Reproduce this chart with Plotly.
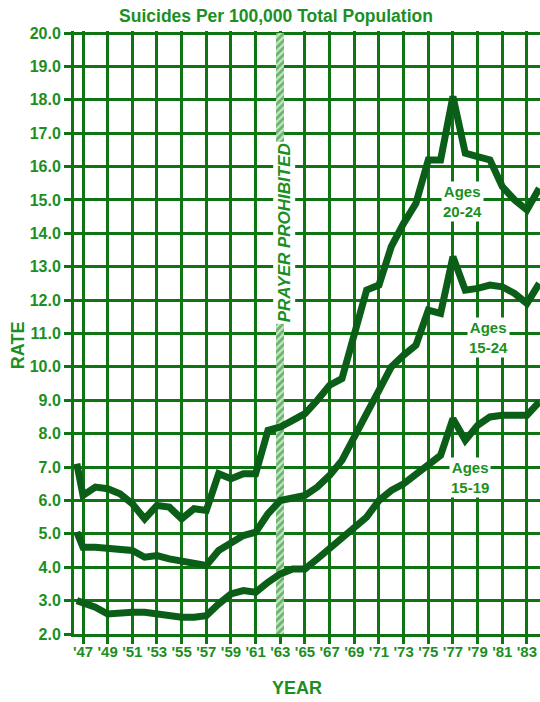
import plotly.graph_objects as go

# ---- data ----
years = [1946.5] + list(range(1947, 1985))
ages_20_24 = [7.1, 6.15, 6.4, 6.35, 6.2, 5.9, 5.45, 5.85, 5.8, 5.45, 5.75, 5.7,
              6.8, 6.65, 6.8, 6.8, 8.1, 8.2, 8.4, 8.6, 9.0, 9.45, 9.65, 10.9,
              12.3, 12.45, 13.6, 14.3, 14.9, 16.2, 16.2, 18.1, 16.4, 16.3, 16.2,
              15.4, 15.0, 14.7, 15.35]
ages_15_24 = [5.05, 4.6, 4.6, 4.55, 4.55, 4.5, 4.3, 4.35, 4.25, 4.2, 4.1, 4.05,
              4.5, 4.7, 4.95, 5.05, 5.6, 6.0, 6.1, 6.15, 6.4, 6.75, 7.2, 7.85,
              8.6, 9.3, 10.0, 10.35, 10.65, 11.7, 11.6, 13.3, 12.3, 12.35, 12.45,
              12.4, 12.2, 11.9, 12.5]
ages_15_19 = [3.0, 2.95, 2.8, 2.6, 2.65, 2.65, 2.65, 2.6, 2.5, 2.5, 2.5, 2.55,
              2.9, 3.2, 3.3, 3.25, 3.55, 3.8, 3.95, 3.95, 4.25, 4.55, 4.9, 5.15,
              5.5, 6.0, 6.3, 6.5, 6.8, 7.1, 7.35, 8.45, 7.8, 8.25, 8.5, 8.55,
              8.55, 8.55, 8.95]
tick_years = list(range(1947, 1985, 2))
tick_labels = ["'" + str(y)[2:] for y in tick_years]
y_ticks = [float(v) for v in range(2, 21)]
prayer_year = 1963
labels = [("Ages<br>20-24", 1977.8, 14.94),
          ("Ages<br>15-24", 1979.85, 10.87),
          ("Ages<br>15-19", 1978.4, 6.68)]

GRID = "#0e7512"
LINE = "#0b5e17"
TEXT = "#1c8f22"
FONT = "Liberation Sans, Arial, sans-serif"

fig = go.Figure()

# hatched "prayer prohibited" band
fig.add_trace(go.Bar(
    x=[prayer_year], y=[18], base=[2], width=[0.65],
    marker=dict(color="#8fd08f", line=dict(width=0),
                pattern=dict(shape="/", fgcolor="#157c1a", bgcolor="#c4e8c4",
                             size=5, solidity=0.55)),
    showlegend=False, hoverinfo="skip"))

for series in (ages_20_24, ages_15_24, ages_15_19):
    fig.add_trace(go.Scatter(x=years, y=series, mode="lines",
                             line=dict(color=LINE, width=7),
                             showlegend=False, hoverinfo="skip"))

annotations = []
for txt, x, y in labels:
    annotations.append(dict(x=x, y=y, xref="x", yref="y", text=txt,
                            showarrow=False, bgcolor="white", borderpad=1,
                            font=dict(family=FONT, size=15, color=TEXT, weight="bold")))
annotations.append(dict(x=1963.3, y=14.0, xref="x", yref="y",
                        text="<i>PRAYER PROHIBITED</i>", textangle=-90,
                        showarrow=False, bgcolor="white", borderpad=1,
                        font=dict(family=FONT, size=17, color=TEXT, weight="bold")))
annotations.append(dict(x=-0.12, y=0.479, xref="paper", yref="paper", text="RATE",
                        textangle=-90, showarrow=False, xanchor="center", yanchor="middle",
                        font=dict(family=FONT, size=18, color=TEXT, weight="bold")))
annotations.append(dict(x=0.4785, y=-0.0896, xref="paper", yref="paper", text="YEAR",
                        showarrow=False, xanchor="center", yanchor="middle",
                        font=dict(family=FONT, size=18, color=TEXT, weight="bold")))

fig.update_layout(
    width=540, height=702,
    margin=dict(l=74, r=0, t=31, b=68),
    paper_bgcolor="white", plot_bgcolor="white",
    title=dict(text="Suicides Per 100,000 Total Population",
               x=276 / 540, y=1 - 16 / 702, xanchor="center", yanchor="middle",
               font=dict(family=FONT, size=17.5, color=TEXT, weight="bold")),
    annotations=annotations,
    bargap=0,
)
fig.update_xaxes(range=[1946.27, 1984.06], tickvals=tick_years, ticktext=tick_labels,
                 showgrid=True, gridcolor=GRID, gridwidth=3,
                 showline=True, linecolor=GRID, linewidth=3,
                 ticks="outside", ticklen=7, tickwidth=3, tickcolor=GRID,
                 ticklabelstandoff=-5,
                 zeroline=False,
                 tickfont=dict(family=FONT, size=15, color=TEXT, weight="bold"))
fig.update_yaxes(range=[2, 20.06], tickvals=y_ticks, tickformat=".1f",
                 showgrid=True, gridcolor=GRID, gridwidth=3,
                 showline=True, linecolor=GRID, linewidth=3,
                 ticks="outside", ticklen=7, tickwidth=3, tickcolor=GRID,
                 zeroline=False,
                 tickfont=dict(family=FONT, size=16, color=TEXT, weight="bold"))

fig.write_html("out.html", config={"displayModeBar": False},
               post_script="document.body.style.margin='0';")
